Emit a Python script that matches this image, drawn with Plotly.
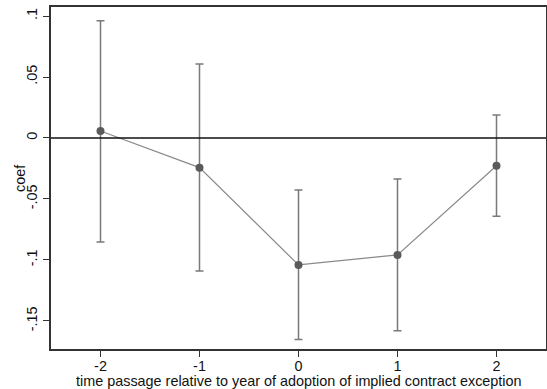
import plotly.graph_objects as go

periods = [-2, -1, 0, 1, 2]
coef = [0.0057, -0.0243, -0.1041, -0.0959, -0.0227]
ci_upper = [0.0961, 0.0607, -0.0426, -0.0336, 0.0189]
ci_lower = [-0.0852, -0.1090, -0.1652, -0.1580, -0.0642]

y_tickvals = [0.1, 0.05, 0, -0.05, -0.1, -0.15]
y_ticktext = [".1", ".05", "0", "-.05", "-.1", "-.15"]
x_tickvals = [-2, -1, 0, 1, 2]
x_ticktext = ["-2", "-1", "0", "1", "2"]

err_plus = [u - c for u, c in zip(ci_upper, coef)]
err_minus = [c - l for c, l in zip(coef, ci_lower)]

fig = go.Figure()
fig.add_trace(go.Scatter(
    x=periods, y=coef, mode="lines+markers",
    line=dict(color="#8a8a8a", width=1.2),
    marker=dict(color="#5a5a5a", size=8),
    error_y=dict(type="data", symmetric=False, array=err_plus, arrayminus=err_minus,
                 color="#7a7a7a", thickness=1.5, width=4),
    showlegend=False,
))
fig.add_hline(y=0, line=dict(color="#111111", width=1.3))

font = dict(family="Liberation Sans, Arial, sans-serif", size=14.4, color="#111111")
fig.update_layout(
    width=547, height=389,
    margin=dict(l=51, r=1, t=7, b=40, autoexpand=False),
    paper_bgcolor="white", plot_bgcolor="white",
    font=font,
    xaxis=dict(range=[-2.5, 2.5], tickvals=x_tickvals, ticktext=x_ticktext,
               showgrid=False, zeroline=False, showline=True, linecolor="#333333",
               linewidth=2, mirror=True, ticks="outside", ticklen=6, tickcolor="#333333",
               automargin=False, ticklabelstandoff=-3),
    yaxis=dict(range=[-0.1730, 0.1074], tickvals=y_tickvals, ticktext=y_ticktext,
               showgrid=False, zeroline=False, showline=True, linecolor="#333333",
               linewidth=2, mirror=True, ticks="outside", ticklen=6, tickcolor="#333333",
               tickangle=-90, automargin=False),
    annotations=[
        dict(text="time passage relative to year of adoption of implied contract exception",
             xref="paper", yref="paper", x=0.5, y=-(381 - 349) / 342.0,
             xanchor="center", yanchor="middle", showarrow=False, font=font),
        dict(text="coef", xref="paper", yref="paper", x=-(51 - 20) / 495.0, y=0.5,
             xanchor="center", yanchor="middle", textangle=-90, showarrow=False, font=font),
    ],
)
fig.write_html("out.html", config={"displayModeBar": False},
               post_script="document.body.style.margin='0';document.body.style.overflow='hidden';")
